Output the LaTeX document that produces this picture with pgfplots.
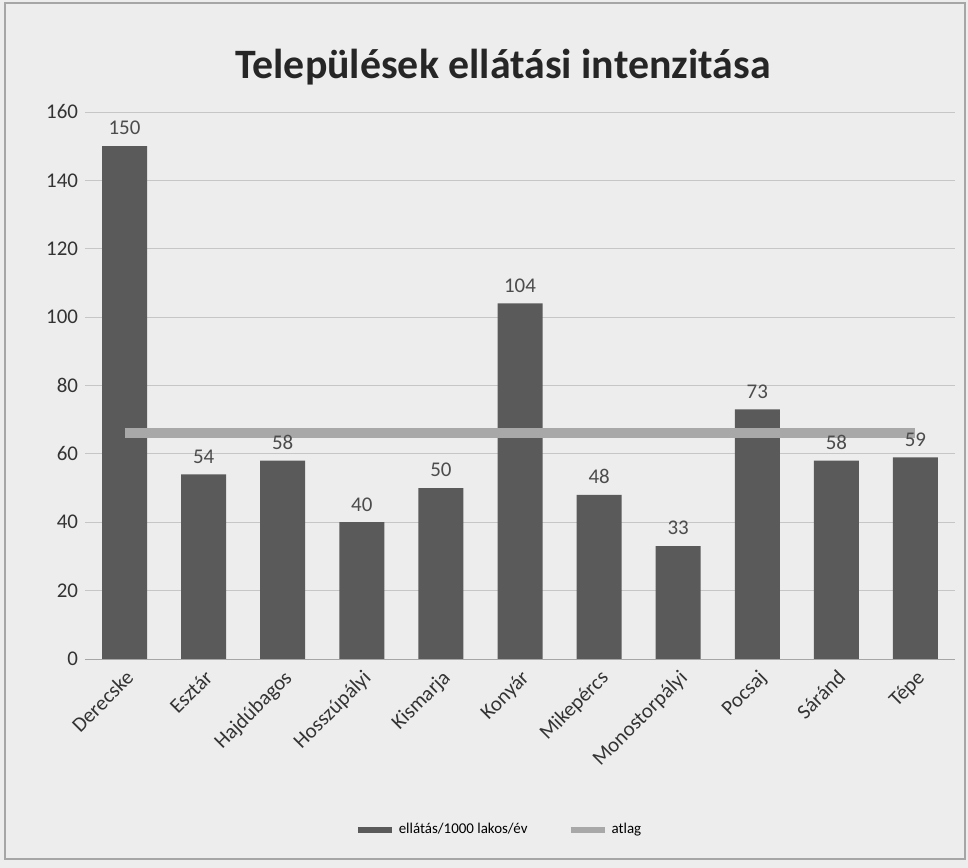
\documentclass[border=0pt]{standalone}
\usepackage{fontspec}
\setmainfont{Carlito}
\usepackage{pgfplots}
\pgfplotsset{compat=1.18}
\definecolor{barc}{HTML}{5A5A5A}
\definecolor{avgc}{HTML}{A8A8A8}
\definecolor{bgc}{HTML}{EDEDED}
\begin{document}
\begin{tikzpicture}[x=1bp,y=1bp]
\fill[bgc] (-42.5,-104.5) rectangle (441.5,329.5);
\draw[gray!70, line width=0.8pt] (-40,-100) rectangle (440,328);
\begin{axis}[at={(0,0)}, anchor=south west, scale only axis,
  width=435bp, height=273.5bp,
  xmin=-0.5, xmax=10.5, ymin=0, ymax=160,
  ytick={0,20,...,160},
  xtick={0,...,10},
  xticklabels={Derecske,Esztár,Hajdúbagos,Hosszúpályi,Kismarja,Konyár,Mikepércs,Monostorpályi,Pocsaj,Sáránd,Tépe},
  x tick label style={rotate=45, anchor=north east, font=\fontsize{10.5}{12}\selectfont, text=black!80},
  y tick label style={font=\fontsize{10.5}{12}\selectfont, text=black!80},
  /pgf/number format/assume math mode=true,
  major tick length=0pt,
  axis x line*=bottom, axis y line*=left,
  x axis line style={draw=gray!70},
  y axis line style={draw=none},
  ymajorgrids, grid style={gray!45},
  legend style={at={(0.477,-0.313)}, anchor=center, draw=none, fill=none,
    legend columns=2, font=\fontsize{7.5}{9}\selectfont,
    /tikz/every even column/.style={column sep=18bp}},
  clip=false,
]
\addplot[ybar, bar width=22.5bp, fill=barc, draw=none,
  nodes near coords, every node near coord/.append style={font=\fontsize{10.5}{12}\selectfont, text=black!70, yshift=2bp},
  legend image code/.code={\draw[line width=3pt, barc] (0cm,0cm) -- (0.6cm,0cm);}]
  coordinates {(0,150) (1,54) (2,58) (3,40) (4,50) (5,104) (6,48) (7,33) (8,73) (9,58) (10,59)};
\addlegendentry{ellátás/1000 lakos/év}
\addplot[line width=5pt, avgc, no markers,
  legend image code/.code={\draw[line width=3pt, avgc] (0cm,0cm) -- (0.6cm,0cm);}]
  coordinates {(0,66) (10,66)};
\addlegendentry{atlag}
\end{axis}
\node[font=\bfseries\fontsize{21}{25}\selectfont, text=black!85] at (209,296) {Települések ellátási intenzitása};
\end{tikzpicture}
\end{document}
